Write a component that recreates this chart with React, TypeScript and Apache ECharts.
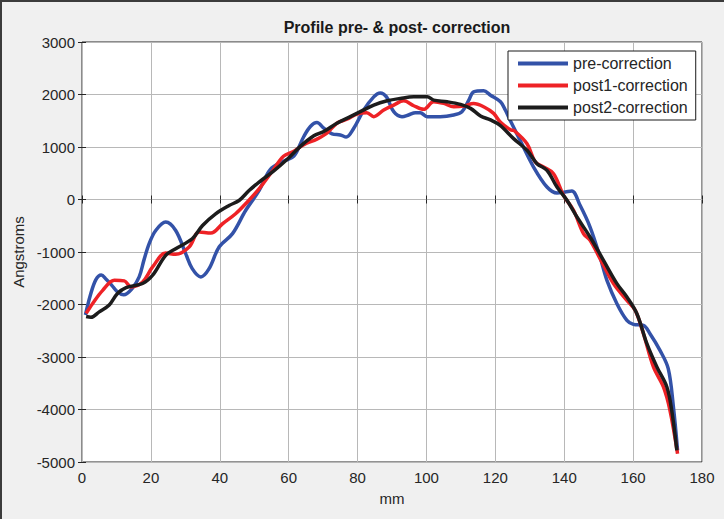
import React, { useEffect, useRef } from "react";
import * as echarts from "echarts";

// Surface profile, Angstroms vs position along the part (mm)
const preMm = [1, 2.4, 4, 5.6, 7, 8.6, 10.3, 12.1, 14.5, 16.6, 18, 19.5, 21.4, 24.3, 27.2, 30.1, 32, 34.5, 36.9, 39.8, 43.7, 47.5, 51.4, 54.7, 58.5, 61.5, 64.4, 66.3, 68.2, 70.2, 72.6, 75, 76.7, 78.9, 81.8, 84.7, 86.6, 88.4, 90.5, 92.9, 94.8, 96.8, 98.2, 100.2, 104, 107.9, 110.3, 112.3, 113.7, 116.6, 118.6, 121.5, 122.9, 124.3, 127.2, 131.1, 135, 137.9, 140.3, 142.2, 144.6, 147.5, 150.4, 152.4, 155.3, 158.2, 160.1, 163, 164.9, 167.8, 170.2, 171.7, 172.9];
const preVal = [-2200, -1830, -1530, -1440, -1520, -1630, -1760, -1815, -1700, -1475, -1150, -840, -590, -430, -590, -1030, -1316, -1475, -1316, -905, -650, -210, 170, 572, 730, 824, 1200, 1390, 1465, 1358, 1250, 1230, 1190, 1358, 1705, 1955, 2030, 1955, 1673, 1578, 1610, 1654, 1654, 1578, 1578, 1610, 1673, 1893, 2050, 2070, 1987, 1862, 1704, 1508, 1127, 619, 238, 124, 143, 162, -111, -524, -1095, -1540, -1984, -2302, -2378, -2397, -2556, -2873, -3222, -3952, -4778];

const post1Mm = [1.2, 3.1, 6, 9.4, 12.3, 14.2, 17.6, 20.5, 24.3, 27.2, 31.1, 34, 37.4, 40.8, 44.6, 47.5, 51.4, 55.6, 58.5, 61.5, 64.4, 68.2, 71.1, 74, 76.9, 79.8, 82.7, 84.7, 87.6, 90.5, 93.4, 96.3, 99.2, 102.1, 105, 107.9, 110.8, 113.7, 116.6, 119.5, 121.5, 124.4, 125.5, 129.2, 131.6, 134, 136.9, 139.8, 142.7, 145.6, 147.5, 150.4, 154.3, 158.2, 160.6, 163, 165.9, 168.8, 170.7, 172.9];
const post1Val = [-2170, -1980, -1730, -1540, -1550, -1665, -1570, -1285, -1020, -1045, -905, -620, -640, -462, -272, -82, 203, 572, 824, 918, 1044, 1151, 1264, 1453, 1528, 1629, 1654, 1578, 1704, 1799, 1880, 1786, 1717, 1862, 1830, 1767, 1780, 1830, 1767, 1641, 1470, 1327, 1310, 1063, 714, 619, 492, 79, -206, -651, -778, -1127, -1603, -1921, -2111, -2556, -3190, -3571, -4016, -4841];

const post2Mm = [1.2, 2.6, 5, 7.9, 10.3, 12.8, 17.6, 20.5, 24.3, 27.2, 32, 35, 38.8, 42.7, 45.6, 48.5, 51.4, 55.6, 59.5, 63.4, 67.3, 70.2, 74, 77.9, 80.8, 84.7, 88.6, 92.4, 96.3, 100.2, 102.1, 106, 109.9, 112.8, 115.7, 118.6, 121.4, 125.3, 129.2, 132.1, 135, 137.9, 140.8, 143.7, 147.5, 151.4, 155.3, 158.2, 161.1, 164, 166.9, 169.8, 171.2, 172.7];
const post2Val = [-2230, -2245, -2140, -2010, -1790, -1677, -1600, -1443, -1063, -937, -747, -494, -272, -114, -19, 170, 330, 540, 761, 1013, 1214, 1296, 1453, 1579, 1673, 1799, 1880, 1925, 1956, 1956, 1893, 1862, 1811, 1736, 1591, 1516, 1413, 1159, 937, 683, 556, 238, -16, -333, -714, -1159, -1603, -1857, -2175, -2746, -3190, -3571, -4016, -4778];

const seriesNames = ["pre-correction", "post1-correction", "post2-correction"];
const seriesColors = ["#3352a8", "#ee2226", "#1c1c1c"];

const xTicks = { min: 0, max: 180, interval: 20 };
const yTicks = { min: -5000, max: 3000, interval: 1000 };

const FONT = "'Liberation Sans', Arial, Helvetica, sans-serif";
const INK = "#262626";

const zip = (xs: number[], ys: number[]) => xs.map((x, i) => [x, ys[i]]);
const plain = (v: number) => String(v);

export default function App() {
  const ref = useRef<HTMLDivElement>(null);

  useEffect(() => {
    if (!ref.current) return;
    const chart = echarts.init(ref.current, undefined, { renderer: "svg" });

    const tickOnly = {
      show: true,
      axisLine: { show: false },
      axisTick: { show: true, inside: true, length: 4, lineStyle: { color: INK, width: 1 } },
      axisLabel: { show: false },
      splitLine: { show: false },
    };

    const datasets = [zip(preMm, preVal), zip(post1Mm, post1Val), zip(post2Mm, post2Val)];

    chart.setOption({
      animation: false,
      backgroundColor: "#f0f0f0",
      textStyle: { fontFamily: FONT },
      title: {
        text: "Profile pre- & post- correction",
        left: 392,
        top: 14,
        textAlign: "center",
        textStyle: { fontFamily: FONT, fontSize: 16, fontWeight: "bold", color: "#1a1a1a" },
      },
      legend: {
        data: seriesNames,
        orient: "vertical",
        left: 508,
        top: 51,
        padding: [4, 8, 4, 10],
        itemGap: 5,
        itemWidth: 50,
        itemHeight: 4,
        icon: "rect",
        backgroundColor: "#ffffff",
        borderColor: "#1a1a1a",
        borderWidth: 1,
        borderRadius: 0,
        textStyle: { fontFamily: FONT, fontSize: 16, color: INK, lineHeight: 17 },
      },
      grid: {
        left: 82,
        right: 22,
        top: 42,
        bottom: 57,
        show: true,
        backgroundColor: "#ffffff",
        borderColor: INK,
        borderWidth: 1,
      },
      xAxis: [
        {
          type: "value",
          ...xTicks,
          position: "bottom",
          name: "mm",
          nameLocation: "middle",
          nameGap: 29,
          nameTextStyle: { fontFamily: FONT, fontSize: 15, color: INK },
          axisLine: { show: false },
          axisTick: { show: true, inside: true, length: 4, lineStyle: { color: INK } },
          axisLabel: { fontFamily: FONT, fontSize: 15, color: INK, margin: 8, formatter: plain },
          splitLine: { show: true, lineStyle: { color: "#b8b8b8", width: 1 } },
        },
        { type: "value", ...xTicks, position: "top", ...tickOnly },
      ],
      yAxis: [
        {
          type: "value",
          ...yTicks,
          position: "left",
          name: "Angstroms",
          nameLocation: "middle",
          nameGap: 56,
          nameTextStyle: { fontFamily: FONT, fontSize: 15, color: INK },
          axisLine: { show: false },
          axisTick: { show: true, inside: true, length: 4, lineStyle: { color: INK } },
          axisLabel: { fontFamily: FONT, fontSize: 15, color: INK, margin: 7, formatter: plain },
          splitLine: { show: true, lineStyle: { color: "#b8b8b8", width: 1 } },
        },
        { type: "value", ...yTicks, position: "right", ...tickOnly },
      ],
      series: seriesNames.map((name, i) => ({
        name,
        type: "line",
        data: datasets[i],
        smooth: 0.35,
        showSymbol: false,
        symbol: "none",
        color: seriesColors[i],
        lineStyle: { color: seriesColors[i], width: 3.5 },
        z: 2 + i,
      })),
      graphic: [
        { type: "line", shape: { x1: 0, y1: 1, x2: 724, y2: 1 }, style: { stroke: "#3c3c3c", lineWidth: 2 }, silent: true },
        { type: "line", shape: { x1: 1, y1: 0, x2: 1, y2: 519 }, style: { stroke: "#3c3c3c", lineWidth: 2 }, silent: true },
      ],
    });

    return () => chart.dispose();
  }, []);

  return (
    <div
      ref={ref}
      style={{ position: "fixed", left: 0, top: 0, width: 724, height: 519 }}
    />
  );
}
